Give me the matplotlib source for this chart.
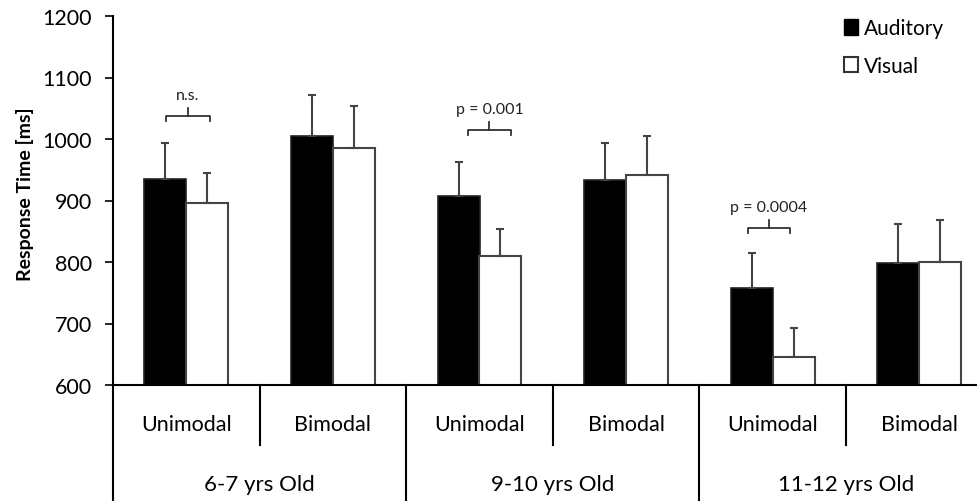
import numpy as np
import matplotlib.pyplot as plt
from matplotlib.patches import Patch

plt.rcParams.update({
    "font.family": ["Lato", "DejaVu Sans"],
    "font.size": 12,
})

# data
conditions = ["Unimodal", "Bimodal", "Unimodal", "Bimodal", "Unimodal", "Bimodal"]
age_groups = ["6-7 yrs Old", "9-10 yrs Old", "11-12 yrs Old"]
auditory = [935, 1005, 908, 933, 757, 798]
auditory_err = [58, 67, 54, 61, 57, 63]
visual = [896, 986, 809, 942, 646, 800]
visual_err = [49, 68, 44, 63, 46, 68]
sig_labels = ["n.s.", "p = 0.001", "p = 0.0004"]
sig_idx = [0, 2, 4]
sig_level = [1038, 1015, 856]

W, H = 977, 502
fig = plt.figure(figsize=(W / 100, H / 100), dpi=100)
ax = fig.add_axes([113 / W, (H - 386) / H, (W - 113) / W, (386 - 17) / H])

x = np.arange(len(conditions))
bw = 0.286
ax.bar(x - bw / 2, auditory, bw, color="black", edgecolor="#222222",
       linewidth=1.2, zorder=2)
ax.bar(x + bw / 2, visual, bw, color="white", edgecolor="#444444",
       linewidth=1.5, zorder=2)
ax.errorbar(x - bw / 2, auditory, yerr=[np.zeros(6), auditory_err], fmt="none",
            ecolor="#444444", elinewidth=1.5, capsize=3, capthick=1.5, zorder=3)
ax.errorbar(x + bw / 2, visual, yerr=[np.zeros(6), visual_err], fmt="none",
            ecolor="#444444", elinewidth=1.5, capsize=3, capthick=1.5, zorder=3)

ax.set_ylim(600, 1200)
ax.set_xlim(-0.5, -0.5 + (W - 113) / 146.6)
ax.set_yticks(range(600, 1201, 100))
ax.tick_params(axis="y", direction="out", length=6, width=1.2, labelsize=15.5, pad=9)
ax.set_xticks([])
for s in ["top", "right"]:
    ax.spines[s].set_visible(False)
ax.spines["left"].set_linewidth(1.5)
ax.spines["bottom"].set_linewidth(1.5)
ax.spines["left"].set_bounds(600, 1200)

ax.set_ylabel("Response Time [ms]", fontweight="bold", fontsize=14)
ax.yaxis.set_label_coords(-0.092, 0.52)

# significance brackets
offs = {0: (-0.14, 0.16), 2: (-0.08, 0.215), 4: (-0.17, 0.12)}
for lab, i, lv in zip(sig_labels, sig_idx, sig_level):
    x0, x1 = i + offs[i][0], i + offs[i][1]
    ax.plot([x0, x0, x1, x1], [lv - 9, lv, lv, lv - 9], color="#333333", lw=1.3, zorder=3)
    xm = (x0 + x1) / 2
    ax.plot([xm, xm], [lv, lv + 12], color="#333333", lw=1.3, zorder=3)
    ax.text(xm, lv + 34, lab, ha="center", va="center", fontsize=11.5, color="#222222")

# category axis below
tr = ax.get_xaxis_transform()
h = 369.0
ax.plot([-0.5, -0.5], [0, -116 / h], transform=tr, color="black", lw=1.5, clip_on=False)
for k in range(len(conditions)):
    ax.text(k, -39 / h, conditions[k], transform=tr, ha="center", va="center", fontsize=15.5)
for g in range(len(age_groups)):
    mid = 2 * g + 0.5
    ax.plot([mid, mid], [0, -60 / h], transform=tr, color="black", lw=1.5, clip_on=False)
    ax.plot([2 * g + 1.5] * 2, [0, -116 / h], transform=tr, color="black", lw=1.5, clip_on=False)
    ax.text(mid, -99 / h, age_groups[g], transform=tr, ha="center", va="center", fontsize=16)

handles = [Patch(facecolor="black", edgecolor="black", label="Auditory"),
           Patch(facecolor="white", edgecolor="#333333", linewidth=1.5, label="Visual")]
fig.legend(handles=handles, loc="upper left", bbox_to_anchor=(844 / W, 1 - 19 / H),
           frameon=False, handlelength=0.65, handleheight=0.8, handletextpad=0.3,
           labelspacing=0.85, fontsize=15, borderaxespad=0, borderpad=0)

fig.savefig("out.png", dpi=100)
